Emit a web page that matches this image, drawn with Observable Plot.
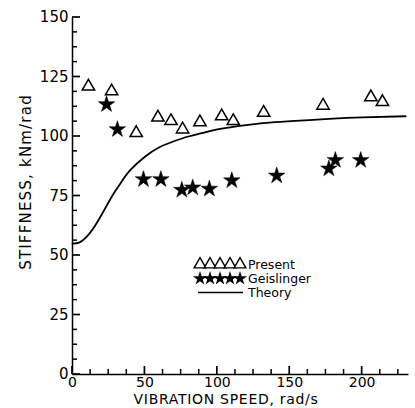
<!DOCTYPE html>
<html>
<head>
<meta charset="utf-8">
<script src="https://cdn.jsdelivr.net/npm/d3@7"></script>
<script src="https://cdn.jsdelivr.net/npm/@observablehq/plot@0.6"></script>
<style>
  html, body { margin: 0; padding: 0; background: #fff; }
  #wrap { position: relative; width: 415px; height: 408px; }
  #legend { position: absolute; left: 0; top: 0; pointer-events: none; }
  text { font-family: "DejaVu Sans", sans-serif; }
</style>
</head>
<body>
<div id="wrap"></div>
<script>
// Present (triangles): vibration speed (rad/s), stiffness (kNm/rad)
const presentSpeed = [11, 27, 44, 59, 68, 76, 88, 103, 111, 132, 173, 206, 214];
const presentStiff = [121, 119, 101.5, 108, 106.5, 103, 106, 108.5, 106.5, 110, 113, 116.5, 114.5];
// Geislinger (stars)
const geisSpeed = [23.5, 31, 49, 61, 75.5, 83, 94.5, 110, 141, 177, 181.5, 199];
const geisStiff = [113.5, 103, 82, 82, 77.5, 78.5, 78, 81.5, 83.5, 86.5, 90, 90];
// Theory curve
const theorySpeed = [0, 5, 10, 15, 20, 25, 30, 35, 40, 50, 60, 70, 80, 90, 100, 120, 140, 160, 180, 200, 230];
const theoryStiff = [55, 55.5, 58, 62, 67, 72.5, 77.5, 82, 86, 91.5, 95.5, 98, 100, 101.5, 103, 104.8, 106, 106.8, 107.5, 108, 108.5];
// Ticks
const xMajor = [0, 50, 100, 150, 200];
const xMinor = [12.5, 25, 37.5, 62.5, 75, 87.5, 112.5, 125, 137.5, 162.5, 175, 187.5, 212.5, 225];
const yMajor = [0, 25, 50, 75, 100, 125, 150];
const yMinor = [6.25, 12.5, 18.75, 31.25, 37.5, 43.75, 56.25, 62.5, 68.75, 81.25, 87.5, 93.75, 106.25, 112.5, 118.75, 131.25, 137.5, 143.75];
const legendLabels = ["Present", "Geislinger", "Theory"];
const xTitle = "VIBRATION  SPEED,  rad/s";
const yTitle = "STIFFNESS,  kNm/rad";

const present = presentSpeed.map((x, i) => ({x, y: presentStiff[i]}));
const geis = geisSpeed.map((x, i) => ({x, y: geisStiff[i]}));
const theory = theorySpeed.map((x, i) => ({x, y: theoryStiff[i]}));

const font = "DejaVu Sans, sans-serif";
const chart = Plot.plot({
  width: 415,
  height: 408,
  marginLeft: 72,
  marginRight: 7,
  marginTop: 17,
  marginBottom: 34,
  style: {fontFamily: font, background: "#fff", color: "#000"},
  x: {domain: [0, 232], axis: null},
  y: {domain: [0, 150], axis: null},
  marks: [
    Plot.link([0], {x1: () => 0, x2: () => 0, y1: () => 0, y2: () => 150, stroke: "#000", strokeWidth: 1.5}),
    Plot.link([0], {x1: () => 0, x2: () => 232, y1: () => 0, y2: () => 0, stroke: "#000", strokeWidth: 1.6}),
    Plot.text(yMajor, {x: 0, y: d => d, text: d => String(d), textAnchor: "end", dx: -4, fontSize: 15, fill: "#000"}),
    Plot.text(xMajor, {x: d => d, y: 0, text: d => String(d), dy: 8, fontSize: 14, fill: "#000", lineAnchor: "middle"}),
    Plot.line(theory, {x: "x", y: "y", curve: "natural", stroke: "#000", strokeWidth: 1.8}),
    Plot.dot(present, {x: "x", y: "y", symbol: "triangle", r: 4.6, stroke: "#000", strokeWidth: 1.5, fill: "#fff"}),
    Plot.dot(geis, {x: "x", y: "y", symbol: "star", r: 5.2, fill: "#000", stroke: "#000", strokeWidth: 0.5})
  ]
});
document.getElementById("wrap").appendChild(chart);

const sx = chart.scale("x"), sy = chart.scale("y");
const X = v => sx.apply(v), Y = v => sy.apply(v);

// Overlay: inward ticks, axis titles and legend
const svg = d3.select("#wrap").append("svg")
  .attr("id", "legend").attr("width", 415).attr("height", 408)
  .style("font-family", font);

const tickG = svg.append("g");
const tick = (x1, y1, x2, y2, w) => tickG.append("line")
  .attr("x1", x1).attr("y1", y1).attr("x2", x2).attr("y2", y2)
  .style("stroke", "#000").style("stroke-width", w);
yMajor.forEach(v => tick(X(0), Y(v), X(0) + 8, Y(v), 1.7));
yMinor.forEach(v => tick(X(0), Y(v), X(0) + 5, Y(v), 1.5));
xMajor.forEach(v => tick(X(v), Y(0), X(v), Y(0) - 8, 1.7));
xMinor.forEach(v => tick(X(v), Y(0), X(v), Y(0) - 5, 1.5));

svg.append("text").attr("x", 226).attr("y", 404).attr("text-anchor", "middle")
  .attr("font-size", 14).attr("letter-spacing", 0.7).text(xTitle);
svg.append("text").attr("transform", "translate(31,182) rotate(-90)").attr("text-anchor", "middle")
  .attr("font-size", 15).attr("letter-spacing", 1.2).text(yTitle);

const rows = [264.5, 278.5, 292.5];
const tri = d3.symbol(d3.symbolTriangle, 60)();
const star = d3.symbol(d3.symbolStar, 62)();
for (let i = 0; i < 5; i++) {
  svg.append("path").attr("d", tri).attr("transform", `translate(${200 + i * 10},${rows[0]})`)
    .attr("fill", "#fff").attr("stroke", "#000").attr("stroke-width", 1.4);
  svg.append("path").attr("d", star).attr("transform", `translate(${200 + i * 10},${rows[1]})`)
    .attr("fill", "#000");
}
svg.append("line").attr("x1", 198).attr("x2", 243).attr("y1", rows[2]).attr("y2", rows[2])
  .attr("stroke", "#000").attr("stroke-width", 1.6);
legendLabels.forEach((t, i) => {
  svg.append("text").attr("x", 248).attr("y", rows[i]).attr("dy", "0.36em")
    .attr("font-size", 12.5).text(t);
});
</script>
</body>
</html>
